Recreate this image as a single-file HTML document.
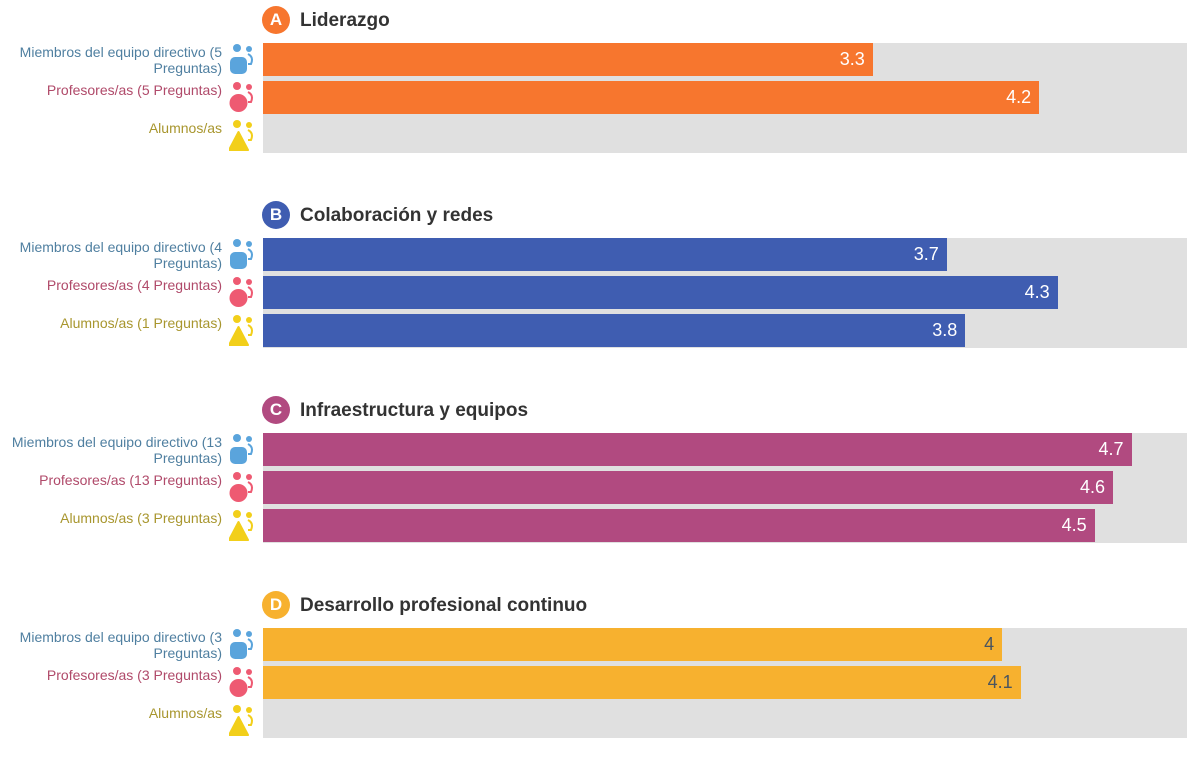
<!DOCTYPE html>
<html><head><meta charset="utf-8"><style>
body{margin:0;width:1200px;height:757px;background:#fff;font-family:"Liberation Sans",sans-serif;overflow:hidden;position:relative}
.abs{position:absolute}
.title{font-weight:bold;font-size:19px;color:#333;line-height:24px}
.badge{width:28px;height:28px;border-radius:50%;color:#fff;font-weight:bold;font-size:17px;text-align:center;line-height:28px}
.lab{font-size:14px;text-align:right;width:222px;line-height:16px}
.val{font-size:18px;color:#fff;text-align:right;line-height:33px}
</style></head><body>
<div id="chart"></div>
<script>
const sections=["Liderazgo","Colaboración y redes","Infraestructura y equipos","Desarrollo profesional continuo"];
const letters=["A","B","C","D"];
const colors=["#F7762E","#3F5DB1","#B14A80","#F7B12F"];
const questions=[[5,5,null],[4,4,1],[13,13,3],[3,3,null]];
const values=[[3.3,4.2,null],[3.7,4.3,3.8],[4.7,4.6,4.5],[4.0,4.1,null]];
const labelsShown=[["3.3","4.2",""],["3.7","4.3","3.8"],["4.7","4.6","4.5"],["4","4.1",""]];
const x0=263,x1=1187,vmax=5;
const xs=v=>x0+(x1-x0)*v/vmax;
const root=document.getElementById('chart');
function mk(cls,css,html){const d=document.createElement('div');d.className='abs '+cls;d.style.cssText=css;if(html!=null)d.innerHTML=html;root.appendChild(d);return d;}
const labCol=["#4F7FA0","#B04A6A","#A8962E"];
const iconCol=["#5AA4DC","#EE5A72","#F2CF1A"];
sections.forEach((s,i)=>{
  const top=i*195;
  const b=mk('badge',`left:262px;top:${top+6}px;background:${colors[i]}`,letters[i]);
  
  
  const t=mk('title',`left:300px;top:${top+9}px`,s);
  
  
  const bg=mk('',`left:${x0}px;top:${top+43}px;width:${x1-x0}px;height:110px;background:#E0E0E0`);
  
  
  for(let r=0;r<3;r++){
    const y=top+43+r*38;
    const q=questions[i][r];
    let txt;
    if(r==0) txt=q?`Miembros del equipo directivo (${q}<br>Preguntas)`:'Miembros del equipo directivo';
    else if(r==1) txt=q?`Profesores/as (${q} Preguntas)`:'Profesores/as';
    else txt=q?`Alumnos/as (${q} Preguntas)`:'Alumnos/as';
    const l=mk('lab',`left:0;top:${y+1}px;color:${labCol[r]}`,txt);
    
    
    const ic=document.createElementNS('http://www.w3.org/2000/svg','svg');
    ic.setAttribute('width','28');ic.setAttribute('height','36');
    ic.style.cssText=`position:absolute;left:229px;top:${y}px`;
    const c=iconCol[r];
    let body=r==0?`<rect x="1" y="14" width="17" height="17" rx="5" fill="${c}"/>`:r==1?`<circle cx="9.5" cy="22" r="9" fill="${c}"/>`:`<path d="M9.5 13 L19 31 L0 31 Z" fill="${c}" stroke="${c}" stroke-linejoin="round" stroke-width="2"/>`;
    ic.innerHTML=`<circle cx="8" cy="5" r="4" fill="${c}"/><circle cx="20" cy="6" r="3" fill="${c}"/><path d="M19 11 Q25 14 22 21 L19 21" fill="none" stroke="${c}" stroke-width="2"/>`+body;
    
    
    root.appendChild(ic);
    const v=values[i][r];
    if(v!=null){
      const w=xs(v)-x0;
      const bar=mk('',`left:${x0}px;top:${y}px;width:${w}px;height:33px;background:${colors[i]}`);
      
      
      const vl=mk('val',`left:${x0}px;top:${y}px;width:${w-8}px;color:${i==3?'#4a5560':'#fff'}`,labelsShown[i][r]);
      
      
    }
  }
});
</script>
</body></html>
